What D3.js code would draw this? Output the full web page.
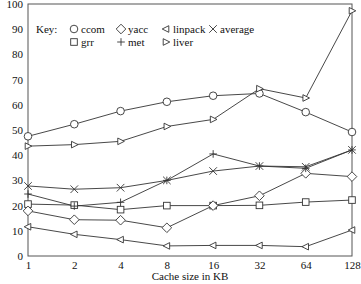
<!DOCTYPE html>
<html><head><meta charset="utf-8">
<script src="https://cdn.jsdelivr.net/npm/d3@7"></script>
<style>body{margin:0;background:#fff}svg{display:block}</style>
</head><body><svg id="c" width="361" height="284"></svg>
<script>
const cacheSizes = [1, 2, 4, 8, 16, 32, 64, 128];
const yTicks = [0, 10, 20, 30, 40, 50, 60, 70, 80, 90, 100];
const seriesNames = ["ccom", "grr", "yacc", "met", "linpack", "liver", "average"];
const ccom    = [47.5, 52.3, 57.5, 61.2, 63.6, 64.5, 57.1, 49.2];
const liver   = [43.6, 44.2, 45.5, 51.4, 54.2, 66.4, 62.7, 97.3];
const average = [27.8, 26.5, 27.1, 30.0, 33.7, 35.7, 35.4, 42.1];
const met     = [24.6, 19.8, 21.3, 30.0, 40.5, 35.7, 34.8, 42.1];
const grr     = [20.6, 20.2, 18.4, 20.0, 20.0, 20.1, 21.4, 22.2];
const yacc    = [17.9, 14.4, 14.2, 11.2, 20.0, 23.9, 32.8, 31.5];
const linpack = [11.6, 8.6, 6.5, 4.0, 4.2, 4.2, 3.7, 10.3];
const seriesValues = {ccom, grr, yacc, met, linpack, liver, average};
const markers = {ccom:"circle", grr:"square", yacc:"diamond", met:"plus", linpack:"triLeft", liver:"triRight", average:"cross"};
const legendRows = [["ccom","yacc","linpack","average"],["grr","met","liver"]];

const FONT = "'Liberation Serif'";
const FS = 11;
const svg = d3.select("#c");
const L = 28, R = 352, T = 4, B = 256;
const x = d3.scaleLog().base(2).domain([1,128]).range([L,R]);
const y = d3.scaleLinear().domain([0,100]).range([B,T]);
const ink = "#333";

function drawMarker(g, type, cx, cy) {
  const s = 3.8;
  const p = g.append("g").attr("transform",`translate(${cx},${cy})`)
    .attr("fill","#fff").attr("stroke",ink).attr("stroke-width",0.9);
  if (type==="circle") p.append("circle").attr("r",s);
  else if (type==="square") p.append("rect").attr("x",-s+0.5).attr("y",-s+0.5).attr("width",2*s-1).attr("height",2*s-1);
  else if (type==="diamond") p.append("path").attr("d",`M0,${-s-1}L${s+1},0L0,${s+1}L${-s-1},0Z`);
  else if (type==="plus") p.append("path").attr("fill","none").attr("d",`M${-s},0H${s}M0,${-s}V${s}`);
  else if (type==="cross") p.append("path").attr("fill","none").attr("d",`M${-s},${-s}L${s},${s}M${-s},${s}L${s},${-s}`);
  else if (type==="triLeft") p.append("path").attr("d",`M${-s},0L${s-1},${-s+0.5}L${s-1},${s-0.5}Z`);
  else if (type==="triRight") p.append("path").attr("d",`M${s},0L${-s+1},${-s+0.5}L${-s+1},${s-0.5}Z`);
}

// frame
svg.append("rect").attr("x",L).attr("y",T).attr("width",R-L).attr("height",B-T)
  .attr("fill","none").attr("stroke","#555").attr("stroke-width",1);

// axes (labels only)
const yAxis = d3.axisLeft(y).tickValues(yTicks).tickSize(0).tickPadding(5);
const gy = svg.append("g").attr("transform",`translate(${L},0)`).call(yAxis)
  .attr("font-family",FONT).attr("font-size",FS);
gy.select(".domain").remove();
gy.selectAll("text").attr("fill","#111");

const xAxis = d3.axisBottom(x).tickValues(cacheSizes).tickFormat(d3.format("d")).tickSize(0).tickPadding(5);
const gx = svg.append("g").attr("transform",`translate(0,${B})`).call(xAxis)
  .attr("font-family",FONT).attr("font-size",FS);
gx.select(".domain").remove();
gx.selectAll("text").attr("fill","#111");

svg.append("text").attr("x",(L+R)/2).attr("y",280).attr("text-anchor","middle")
  .attr("font-family",FONT).attr("font-size",FS).attr("fill","#111").text("Cache size in KB");

// series
const line = d3.line().x((d,i)=>x(cacheSizes[i])).y(d=>y(d));
seriesNames.forEach(name=>{
  svg.append("path").datum(seriesValues[name]).attr("d",line).attr("fill","none").attr("stroke",ink).attr("stroke-width",0.9);
});
seriesNames.forEach(name=>{
  const g = svg.append("g");
  seriesValues[name].forEach((v,i)=>drawMarker(g, markers[name], x(cacheSizes[i]), y(v)));
});

// legend
const lg = svg.append("g").attr("font-family",FONT).attr("font-size",FS).attr("fill","#111");
lg.append("text").attr("x",36).attr("y",32.5).text("Key:");
const colX = [74, 121, 166, 213];
const rowY = [29, 42];
legendRows.forEach((row,ri)=>{
  row.forEach((name,ci)=>{
    drawMarker(lg, markers[name], colX[ci], rowY[ri]);
    lg.append("text").attr("x",colX[ci]+7).attr("y",rowY[ri]+3.5).text(name);
  });
});
</script></body></html>
